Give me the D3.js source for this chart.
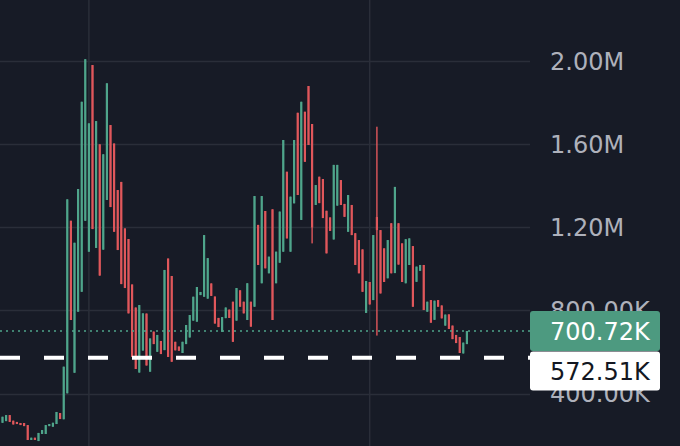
<!DOCTYPE html>
<html>
<head>
<meta charset="utf-8">
<script src="https://cdn.jsdelivr.net/npm/d3@7"></script>
<style>
  html, body { margin: 0; padding: 0; background: #171b26; }
  svg { display: block; }
</style>
</head>
<body>
<div id="chart"></div>
<script>
// candle values in thousands (K)
var opens = [
  259, 267, 296, 269, 263, 258, 258, 248, 176, 187,
  171, 205, 205, 243, 240, 253, 306, 276, 401, 1232,
  500, 794, 890, 1232, 1083, 1982, 1101, 1600, 1093, 1332,
  1693, 1604, 1380, 1419, 1195, 1144, 925, 814, 501, 607,
  785, 505, 698, 601, 653, 609, 1050, 966, 649, 626,
  595, 638, 670, 751, 746, 874, 866, 857, 930, 867,
  764, 697, 763, 804, 842, 751, 897, 842, 754, 842,
  818, 1212, 931, 1279, 979, 1287, 931, 1030, 1083, 1468,
  1083, 1316, 1752, 1236, 1757, 1881, 1698, 1308, 1444, 1433,
  1280, 1248, 1142, 1305, 1428, 1313, 1179, 1308, 1172, 1139,
  1094, 788, 937, 850, 1250, 1187, 1099, 955, 1220, 980,
  1220, 1123, 931, 1019, 1110, 938, 991, 1019, 794, 850,
  755, 850, 824, 727, 781, 727, 682, 672, 593, 638
];
var closes = [
  288, 296, 263, 251, 253, 248, 243, 176, 187, 176,
  210, 224, 248, 253, 259, 311, 277, 529, 1335, 754,
  1126, 1385, 1805, 2010, 1701, 1192, 1712, 968, 1552, 1894,
  1298, 1179, 1091, 927, 908, 786, 576, 518, 826, 786,
  535, 665, 638, 682, 590, 995, 576, 553, 608, 606,
  649, 730, 778, 866, 913, 889, 1163, 1052, 870, 737,
  720, 768, 814, 764, 649, 908, 818, 786, 931, 722,
  1351, 1019, 1351, 1003, 1059, 754, 1083, 1276, 1621, 1147,
  1348, 1621, 1356, 1805, 1516, 1597, 1200, 1404, 1317, 1245,
  1075, 1183, 1501, 1501, 1308, 1251, 1356, 1163, 1019, 979,
  890, 942, 829, 1163, 1187, 882, 937, 1139, 979, 1395,
  1021, 937, 1143, 1147, 818, 1011, 1019, 802, 842, 741,
  847, 818, 762, 780, 711, 662, 643, 595, 645, 700.72
];
var highs = [
  288, 296, 296, 269, 263, 258, 258, 248, 187, 187,
  210, 224, 248, 253, 259, 311, 306, 529, 1335, 1232,
  1126, 1385, 1805, 2010, 1701, 1982, 1712, 1600, 1552, 1894,
  1693, 1604, 1380, 1419, 1195, 1144, 925, 814, 826, 786,
  785, 665, 698, 682, 653, 995, 1050, 966, 649, 626,
  649, 730, 778, 866, 913, 889, 1163, 1052, 930, 867,
  764, 768, 814, 804, 842, 908, 897, 842, 931, 842,
  1351, 1212, 1351, 1279, 1059, 1287, 1083, 1276, 1621, 1468,
  1348, 1621, 1752, 1805, 1757, 1881, 1698, 1404, 1444, 1433,
  1280, 1248, 1501, 1501, 1428, 1313, 1356, 1308, 1172, 1139,
  1094, 942, 937, 1163, 1685, 1187, 1099, 1139, 1220, 1395,
  1220, 1123, 1143, 1147, 1110, 1011, 1019, 1019, 842, 850,
  847, 850, 824, 780, 781, 727, 682, 672, 645, 701
];
var lows = [
  259, 267, 263, 251, 253, 248, 243, 176, 176, 176,
  171, 205, 205, 243, 240, 253, 277, 276, 401, 754,
  500, 794, 890, 1232, 1083, 1192, 1101, 968, 1093, 1332,
  1298, 1179, 1091, 927, 908, 786, 576, 518, 501, 607,
  535, 505, 638, 601, 590, 609, 576, 553, 608, 606,
  595, 638, 670, 751, 746, 874, 866, 857, 870, 737,
  720, 697, 763, 764, 649, 751, 818, 786, 754, 722,
  818, 1019, 931, 1003, 979, 754, 931, 1030, 1083, 1147,
  1083, 1316, 1356, 1236, 1516, 1597, 1123, 1308, 1317, 1245,
  1075, 1183, 1142, 1305, 1308, 1251, 1179, 1163, 1019, 979,
  890, 788, 829, 850, 679, 882, 937, 955, 979, 980,
  1021, 937, 931, 1019, 818, 938, 991, 802, 794, 741,
  755, 818, 762, 727, 711, 662, 643, 595, 593, 638
];

var priceTicks = [400, 800, 1200, 1600, 2000];
var tickLabels = ["400.00K", "800.00K", "1.20M", "1.60M", "2.00M"];
var timeGridIdx = [24, 102];
var lastPrice = 700.72;
var lastLabel = "700.72K";
var markPrice = 572.51;
var markLabel = "572.51K";

var width = 680, height = 446;
var plotRight = 530;
var upColor = "#4fa58b", downColor = "#e0575b";
var fontStack = "'DejaVu Sans', sans-serif";

var svg = d3.select("#chart").append("svg")
    .attr("width", width)
    .attr("height", height);

svg.append("rect")
    .attr("width", width)
    .attr("height", height)
    .style("fill", "#171b26");

var x = d3.scaleLinear().domain([0, opens.length - 1]).range([2.5, 2.5 + 3.6 * (opens.length - 1)]);
var y = d3.scaleLinear().domain([400, 2000]).range([393.5, 61.3]);

var grid = svg.append("g");
grid.selectAll(".hgrid")
    .data(priceTicks)
    .enter().append("line")
    .attr("x1", 0)
    .attr("x2", plotRight)
    .attr("y1", function(d) { return Math.round(y(d)) + 0.5; })
    .attr("y2", function(d) { return Math.round(y(d)) + 0.5; })
    .style("stroke", "#2a2e39")
    .style("stroke-width", 1.5);

grid.selectAll(".vgrid")
    .data(timeGridIdx)
    .enter().append("line")
    .attr("x1", function(d) { return x(d); })
    .attr("x2", function(d) { return x(d); })
    .attr("y1", 0)
    .attr("y2", height)
    .style("stroke", "#2a2e39")
    .style("stroke-width", 1.5);

var candles = svg.append("g")
    .selectAll("g")
    .data(d3.range(opens.length))
    .enter().append("g");

candles.append("rect")
    .attr("x", function(i) { return x(i) - 0.7; })
    .attr("width", 1.4)
    .attr("y", function(i) { return y(highs[i]); })
    .attr("height", function(i) { return y(lows[i]) - y(highs[i]); })
    .style("fill", function(i) { return closes[i] >= opens[i] ? upColor : downColor; });

candles.append("rect")
    .attr("x", function(i) { return x(i) - 1.1; })
    .attr("width", 2.2)
    .attr("y", function(i) { return y(Math.max(opens[i], closes[i])); })
    .attr("height", function(i) { return Math.max(1, Math.abs(y(opens[i]) - y(closes[i]))); })
    .style("fill", function(i) { return closes[i] >= opens[i] ? upColor : downColor; });

// last price dotted line
svg.append("line")
    .attr("x1", 0)
    .attr("x2", plotRight)
    .attr("y1", y(lastPrice))
    .attr("y2", y(lastPrice))
    .style("stroke", upColor)
    .style("stroke-width", 1.6)
    .style("stroke-dasharray", "2,4");

// mark price dashed line
svg.append("line")
    .attr("x1", 0)
    .attr("x2", plotRight)
    .attr("y1", y(markPrice))
    .attr("y2", y(markPrice))
    .style("stroke", "#ffffff")
    .style("stroke-width", 4)
    .style("stroke-dasharray", "20,24");

svg.selectAll(".ticklabel")
    .data(priceTicks)
    .enter().append("text")
    .attr("x", 550)
    .attr("y", function(d) { return y(d); })
    .attr("dy", "0.36em")
    .text(function(d, i) { return tickLabels[i]; })
    .style("font-family", fontStack)
    .style("font-size", "24px")
    .style("fill", "#aeb1bb");

svg.append("rect")
    .attr("x", plotRight)
    .attr("y", y(lastPrice) - 20)
    .attr("width", 130)
    .attr("height", 40)
    .attr("rx", 3)
    .style("fill", "#4d9a80");

svg.append("text")
    .attr("x", 550)
    .attr("y", y(lastPrice))
    .attr("dy", "0.36em")
    .text(lastLabel)
    .style("font-family", fontStack)
    .style("font-size", "24px")
    .style("fill", "#ffffff");

svg.append("rect")
    .attr("x", plotRight)
    .attr("y", y(lastPrice) + 20.5)
    .attr("width", 130)
    .attr("height", 39)
    .attr("rx", 3)
    .style("fill", "#ffffff");

svg.append("text")
    .attr("x", 550)
    .attr("y", y(lastPrice) + 40)
    .attr("dy", "0.36em")
    .text(markLabel)
    .style("font-family", fontStack)
    .style("font-size", "24px")
    .style("fill", "#131722");
</script>
</body>
</html>
